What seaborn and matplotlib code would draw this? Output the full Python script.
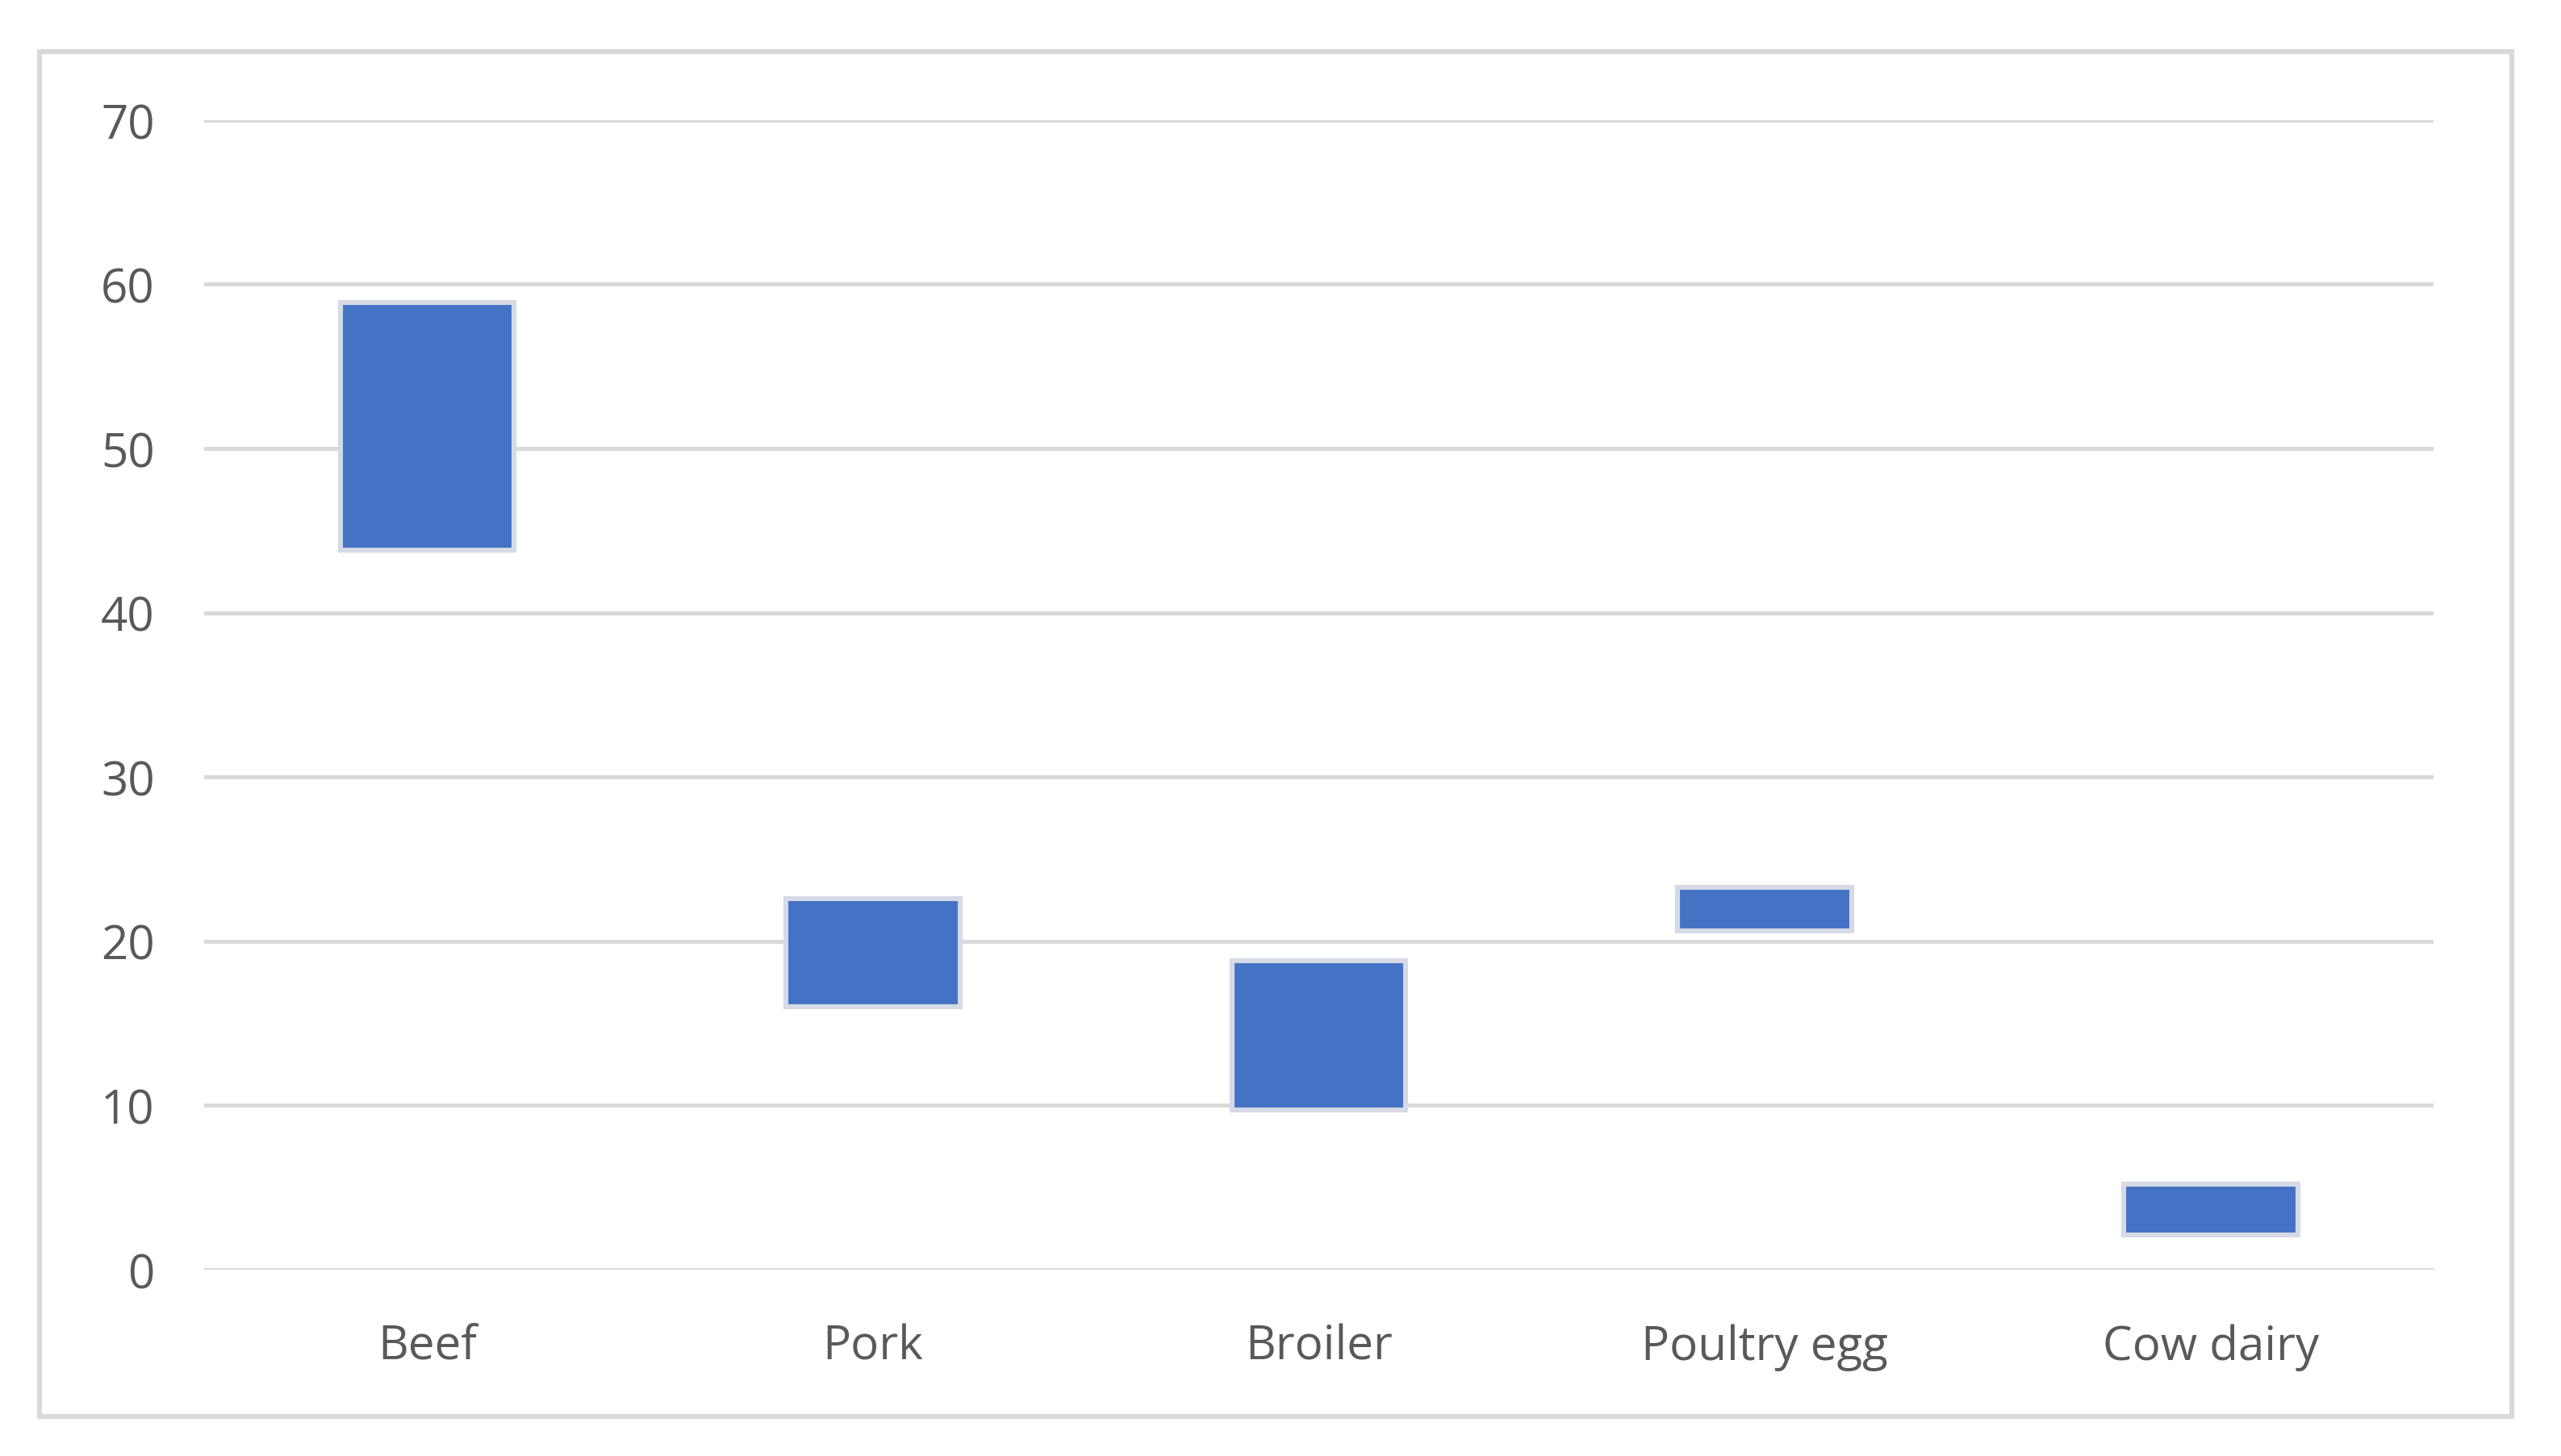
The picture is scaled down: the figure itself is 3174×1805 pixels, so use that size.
import matplotlib
matplotlib.use("Agg")
import matplotlib.pyplot as plt
import seaborn as sns
import pandas as pd
from matplotlib.patches import Rectangle

# values
categories = ['Beef', 'Pork', 'Broiler', 'Poultry egg', 'Cow dairy']
low_values = [43.8, 16.0, 9.7, 20.6, 2.1]
high_values = [58.9, 22.6, 18.8, 23.3, 5.2]
y_ticks = [0, 10, 20, 30, 40, 50, 60, 70]

df = pd.DataFrame({
    'category': categories,
    'low': low_values,
    'high': high_values,
})
df['span'] = df['high'] - df['low']

sns.set_theme(style='white')
plt.rcParams['font.family'] = ['Open Sans', 'DejaVu Sans']

fig = plt.figure(figsize=(15.87, 9.03), dpi=200)
fig.patch.set_facecolor('white')
ax = fig.add_axes([0.0797, 0.128, 0.8706, 0.789])

sns.barplot(data=df, x='category', y='span', bottom=df['low'].values,
            order=categories, color='#4472C4', saturation=1, width=0.39,
            edgecolor='#D6DAE6', linewidth=2.2, ax=ax, zorder=3)

ax.set_ylim(0, 70)
ax.set_xlim(-0.5, len(categories) - 0.5)
ax.set_yticks(y_ticks)
ax.yaxis.grid(True, color='#D9D9D9', linewidth=1.8, zorder=0)
ax.xaxis.grid(False)
ax.set_axisbelow(True)
for s in ax.spines.values():
    s.set_visible(False)

ax.set_xlabel('')
ax.set_ylabel('')
ax.tick_params(axis='y', length=0, pad=22, labelsize=21, labelcolor='#595959')
ax.tick_params(axis='x', length=0, pad=24, labelsize=21, labelcolor='#595959')

# outer chart border
fig.add_artist(Rectangle((24 / 1568, 1 - 868 / 892), (1538 - 24) / 1568, (868 - 32) / 892,
                         transform=fig.transFigure, fill=False,
                         edgecolor='#D9D9D9', linewidth=2.2))

fig.savefig('out.png', dpi=200, facecolor='white')
